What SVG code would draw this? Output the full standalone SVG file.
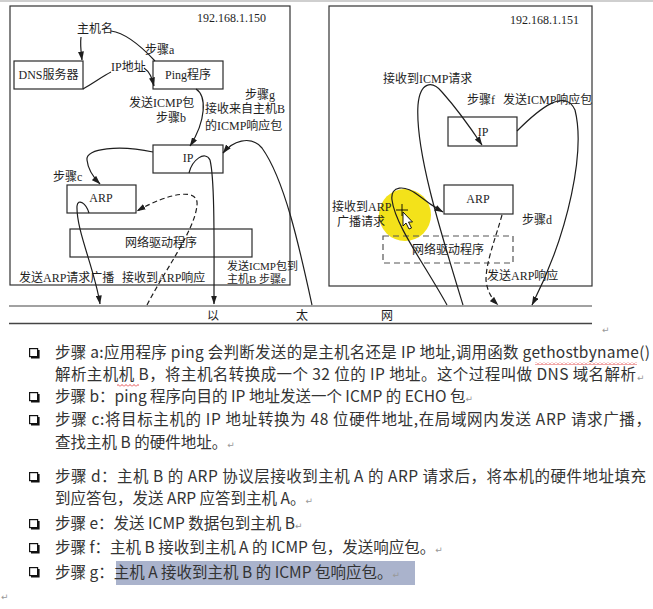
<svg xmlns="http://www.w3.org/2000/svg" width="653" height="609" viewBox="0 0 653 609">
<defs>
<style>
.frame{fill:none;stroke:#333;stroke-width:1.2}
.box{fill:none;stroke:#2a2a2a;stroke-width:1.2}
.dbox{fill:none;stroke:#555;stroke-width:1.2;stroke-dasharray:6 4}
.con{fill:none;stroke:#1e1e1e;stroke-width:1.2}
.dash{stroke-dasharray:5 3}
.lbl{font-family:"Liberation Serif","Noto Sans CJK SC",serif;font-size:12px;fill:#1e1e1e}
.sm{font-size:11px}
.mid{text-anchor:middle}
.txt{font-family:"Noto Sans CJK SC","Liberation Sans",sans-serif;font-size:15.5px;fill:#333}
.pm{font-family:"DejaVu Sans",sans-serif;font-size:9px;fill:#999}
</style>
<marker id="ah" markerUnits="userSpaceOnUse" markerWidth="9" markerHeight="6" refX="8.5" refY="3" orient="auto">
<path d="M0,0 L9,3 L0,6 Z" fill="#1e1e1e"/>
</marker>
<g id="blt"><rect x="0.6" y="0.6" width="8" height="8" fill="#fff" stroke="#111" stroke-width="1.2"/><path d="M9.6,2 V9.6 H2" fill="none" stroke="#111" stroke-width="2"/></g>
<pattern id="wave" width="4" height="3" patternUnits="userSpaceOnUse"><path d="M0,2.5 L2,0.5 L4,2.5" fill="none" stroke="#d22" stroke-width="0.8"/></pattern>
</defs>
<rect width="653" height="609" fill="#fff"/>
<rect x="0" y="0" width="653" height="2" fill="#cfcfcf"/>

<!-- host frames and ethernet -->
<g id="hostA-frame"><rect class="frame" x="10" y="6" width="280" height="279"/><text class="lbl" x="197" y="22">192.168.1.150</text></g>
<g id="hostB-frame"><rect class="frame" x="329" y="6" width="263" height="280"/><text class="lbl" x="510" y="24">192.168.1.151</text></g>
<g id="ethernet">
<line x1="9" y1="306" x2="592" y2="306" stroke="#444" stroke-width="1.2"/>
<line x1="9" y1="323.5" x2="592" y2="323.5" stroke="#444" stroke-width="1.6"/>
<text class="lbl mid" x="213" y="320">以</text>
<text class="lbl mid" x="302" y="320">太</text>
<text class="lbl mid" x="387" y="320">网</text>
</g>

<!-- highlight circle (screen capture) -->
<circle cx="405" cy="215" r="26" fill="#f3e21a"/>

<!-- host A nodes -->
<g id="dnsA"><rect class="box" x="14" y="61" width="69" height="28"/><text class="lbl mid" x="48.5" y="79">DNS服务器</text></g>
<g id="pingA"><rect class="box" x="153" y="61" width="70" height="28"/><text class="lbl mid" x="188" y="79">Ping程序</text></g>
<g id="ipA"><rect class="box" x="153" y="145" width="70" height="28"/><text class="lbl mid" x="188" y="162">IP</text></g>
<g id="arpA"><rect class="box" x="67" y="185" width="69" height="28"/><text class="lbl mid" x="101" y="202">ARP</text></g>
<g id="drvA"><rect class="box" x="70" y="229" width="182" height="28"/><text class="lbl mid" x="161" y="247">网络驱动程序</text></g>

<!-- host B nodes -->
<g id="ipB"><rect class="box" x="448" y="117" width="69" height="29"/><text class="lbl mid" x="483" y="136">IP</text></g>
<g id="arpB"><rect class="box" x="444" y="185" width="69" height="29"/><text class="lbl mid" x="478" y="203">ARP</text></g>
<g id="drvB"><rect class="dbox" x="383" y="236" width="130" height="27"/><text class="lbl mid" x="448" y="254">网络驱动程序</text></g>

<!-- connectors -->
<g id="connectors">
<path class="con" d="M81,37 C80,45 81,52 82,60" marker-end="url(#ah)"/>
<path class="con" d="M111,31 C126,33 141,46 155,61"/>
<path class="con" d="M83,89 C95,82 103,76 111,72"/>
<path class="con" d="M144,68 C150,72 152,78 154,86" marker-end="url(#ah)"/>
<path class="con" d="M196,89 C207,96 206,121 190,146" marker-end="url(#ah)"/>
<path class="con" d="M153,152 C120,145 85,148 87,160 C88,170 94,178 100,184" marker-end="url(#ah)"/>
<path class="con" d="M89,213 C86,203 78,198 77,206 C76,230 95,270 100,304" marker-end="url(#ah)"/>
<path class="con dash" d="M147,305 C165,270 195,230 197,205 C199,188 170,192 137,211" marker-end="url(#ah)"/>
<path class="con" d="M189,173 C192,160 205,150 210,160 C215,180 214,250 214,304" marker-end="url(#ah)"/>
<path class="con" d="M312,305 C300,250 285,180 262,148 C250,134 232,142 223,153" marker-end="url(#ah)"/>
<path class="con" d="M463,305 C440,230 415,150 418,105 C420,82 432,80 442,92 C458,110 472,130 482,145" marker-end="url(#ah)"/>
<path class="con" d="M517,131 C540,108 565,88 575,110 C585,150 570,230 532,305" marker-end="url(#ah)"/>
<path class="con" d="M447,305 C425,265 395,225 392,200 C390,185 405,185 418,195 C428,203 436,208 443,212" marker-end="url(#ah)"/>
<path class="con dash" d="M502,215 C495,240 486,262 486,280 C487,292 493,300 498,305" marker-end="url(#ah)"/>
</g>

<!-- labels -->
<g id="labels">
<text class="lbl" x="77" y="33">主机名</text>
<text class="lbl" x="145" y="54">步骤a</text>
<text class="lbl" x="111" y="71">IP地址</text>
<text class="lbl" x="129" y="107">发送ICMP包</text>
<text class="lbl" x="156" y="122">步骤b</text>
<text class="lbl" x="245" y="99">步骤g</text>
<text class="lbl" x="205" y="113">接收来自主机B</text>
<text class="lbl" x="205" y="130">的ICMP响应包</text>
<text class="lbl" x="53" y="181">步骤c</text>
<text class="lbl" x="19" y="282">发送ARP请求广播</text>
<text class="lbl" x="122" y="282">接收到ARP响应</text>
<text class="lbl sm" x="227" y="270">发送ICMP包到</text>
<text class="lbl sm" x="227" y="283">主机B 步骤e</text>
<text class="lbl" x="383" y="83">接收到ICMP请求</text>
<text class="lbl" x="467" y="104">步骤f</text>
<text class="lbl" x="503" y="104">发送ICMP响应包</text>
<text class="lbl" x="332" y="211">接收到ARP</text>
<text class="lbl" x="337" y="226">广播请求</text>
<text class="lbl" x="522" y="224">步骤d</text>
<text class="lbl" x="487" y="280">发送ARP响应</text>
</g>

<!-- cursor -->
<g id="cursor" stroke="#000" stroke-width="0.9">
<path d="M396,210 H408 M402,204 V216" fill="none"/>
<path d="M403,212 L403,226 L406,223 L409,229 L411.5,228 L408.5,222 L412.5,222 Z" fill="#fff"/>
</g>

<!-- text area -->
<rect x="116" y="561" width="299" height="24" fill="#aab3cc"/>
<rect x="535" y="362" width="102" height="3" fill="url(#wave)"/>
<rect x="117" y="384" width="22" height="3" fill="url(#wave)"/>
<g id="steps">
<use href="#blt" x="29" y="348"/>
<use href="#blt" x="29" y="392"/>
<use href="#blt" x="29" y="415"/>
<use href="#blt" x="29" y="472"/>
<use href="#blt" x="29" y="519"/>
<use href="#blt" x="29" y="543"/>
<use href="#blt" x="29" y="567"/>
<text class="txt" x="55" y="358" textLength="595">步骤 a:应用程序 ping 会判断发送的是主机名还是 IP 地址,调用函数 gethostbyname()</text>
<text class="txt" x="55" y="380" textLength="581">解析主机机 B，将主机名转换成一个 32 位的 IP 地址。这个过程叫做 DNS 域名解析</text>
<text class="pm" x="637" y="381">↵</text>
<text class="txt" x="55" y="402">步骤 b：ping 程序向目的 IP 地址发送一个 ICMP 的 ECHO 包<tspan class="pm">↵</tspan></text>
<text class="txt" x="55" y="425" textLength="596">步骤 c:将目标主机的 IP 地址转换为 48 位硬件地址,在局域网内发送 ARP 请求广播，</text>
<text class="txt" x="55" y="448">查找主机 B 的硬件地址。<tspan class="pm">↵</tspan></text>
<text class="txt" x="55" y="482" textLength="591">步骤 d：主机 B 的 ARP 协议层接收到主机 A 的 ARP 请求后，将本机的硬件地址填充</text>
<text class="txt" x="55" y="504">到应答包，发送 ARP 应答到主机 A。<tspan class="pm">↵</tspan></text>
<text class="txt" x="55" y="529">步骤 e：发送 ICMP 数据包到主机 B<tspan class="pm">↵</tspan></text>
<text class="txt" x="55" y="553">步骤 f：主机 B 接收到主机 A 的 ICMP 包，发送响应包。<tspan class="pm">↵</tspan></text>
<text class="txt" x="55" y="578">步骤 g：主机 A 接收到主机 B 的 ICMP 包响应包。<tspan class="pm">↵</tspan></text>
<text class="pm" x="602" y="333">↵</text>
<text class="pm" x="1" y="600">↵</text>
</g>
</svg>
